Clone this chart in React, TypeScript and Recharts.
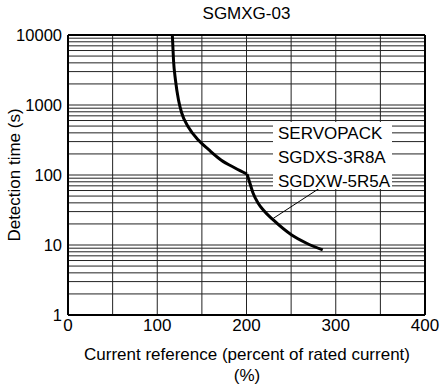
import { LineChart, Line, XAxis, YAxis, CartesianGrid, ReferenceLine, Label } from "recharts";

const title = "SGMXG-03";
const boxLines = ["SERVOPACK", "SGDXS-3R8A", "SGDXW-5R5A"];

// current reference (%) vs detection time (s), split at the knee near 200 %
const currentPctA = [116.9, 118.2, 120.4, 123.8, 127.4, 134.8, 146, 158, 171.4, 187.1, 200.6];
const detectTimeA = [10000, 4390, 2276, 1179, 769, 485, 316, 228, 164, 126, 103];
const currentPctB = [200.6, 203.4, 207.3, 212.9, 218.8, 230, 250.6, 267.4, 285.4];
const detectTimeB = [103, 79.4, 55.3, 39.8, 31.6, 22.8, 13.9, 10.6, 8.5];

const xTicks = [0, 50, 100, 150, 200, 250, 300, 350, 400];
const yTicks = [1, 2, 3, 4, 5, 6, 7, 8, 9, 10, 20, 30, 40, 50, 60, 70, 80, 90, 100, 200, 300, 400, 500, 600, 700, 800, 900, 1000, 2000, 3000, 4000, 5000, 6000, 7000, 8000, 9000, 10000];
const yLabels = [1, 10, 100, 1000, 10000];

// leader line from label box to curve
const leaderX = [282, 230];
const leaderY = [65, 24];

const dataA = currentPctA.map((x, i) => ({ x, t: detectTimeA[i] }));
const dataB = currentPctB.map((x, i) => ({ x, t: detectTimeB[i] }));

const font = "'Liberation Sans', Arial, sans-serif";

export default function App() {
  return (
    <div style={{ position: "relative", width: 444, height: 385, background: "#fff", fontFamily: font }}>
      <style>{`body{margin:0}`}</style>
      <div style={{ position: "absolute", left: 68, width: 357, top: 4, textAlign: "center", fontSize: 17, color: "#000" }}>
        {title}
      </div>
      <LineChart width={444} height={385} margin={{ top: 35, right: 19, bottom: 0, left: 0 }}>
        <CartesianGrid stroke="#222" strokeWidth={1} />
        <XAxis
          dataKey="x"
          type="number"
          domain={[0, 400]}
          ticks={xTicks}
          interval={0}
          allowDuplicatedCategory={false}
          tickFormatter={(v: number) => (v % 100 === 0 ? String(v) : "")}
          tick={{ fontSize: 17, fill: "#000", fontFamily: font }}
          tickLine={false}
          tickSize={2}
          axisLine={{ stroke: "#000", strokeWidth: 2 }}
          height={70}
        >
          <Label
            content={() => (
              <g fontFamily={font} fontSize={17} fill="#000" textAnchor="middle">
                <text x={247} y={360}>Current reference (percent of rated current)</text>
                <text x={247} y={381}>(%)</text>
              </g>
            )}
          />
        </XAxis>
        <YAxis
          type="number"
          scale="log"
          domain={[1, 10000]}
          ticks={yTicks}
          interval={0}
          allowDataOverflow
          tickFormatter={(v: number) => (yLabels.includes(v) ? String(v) : "")}
          tick={{ fontSize: 16.5, fill: "#000", fontFamily: font }}
          tickLine={false}
          tickSize={4}
          axisLine={{ stroke: "#000", strokeWidth: 2 }}
          width={68}
        >
          <Label
            content={() => (
              <text
                x={20}
                y={175}
                transform="rotate(-90 20 175)"
                textAnchor="middle"
                fontFamily={font}
                fontSize={17}
                fill="#000"
              >
                Detection time (s)
              </text>
            )}
          />
        </YAxis>
        <ReferenceLine y={10000} stroke="#000" strokeWidth={2} />
        <ReferenceLine x={400} stroke="#000" strokeWidth={2} />
        <ReferenceLine
          segment={[{ x: leaderX[0], y: leaderY[0] }, { x: leaderX[1], y: leaderY[1] }]}
          stroke="#000"
          strokeWidth={1}
        />
        <Line data={dataA} dataKey="t" type="monotone" stroke="#000" strokeWidth={3} dot={false} isAnimationActive={false} />
        <Line data={dataB} dataKey="t" type="monotone" stroke="#000" strokeWidth={3} dot={false} isAnimationActive={false} />
      </LineChart>
      <div
        style={{
          position: "absolute",
          left: 273,
          top: 122,
          width: 119,
          height: 67,
          background: "#fff",
          fontSize: 17,
          lineHeight: "24px",
          color: "#000",
          paddingLeft: 5,
          boxSizing: "border-box",
          whiteSpace: "nowrap",
        }}
      >
        {boxLines.map((s) => (
          <div key={s}>{s}</div>
        ))}
      </div>
    </div>
  );
}
